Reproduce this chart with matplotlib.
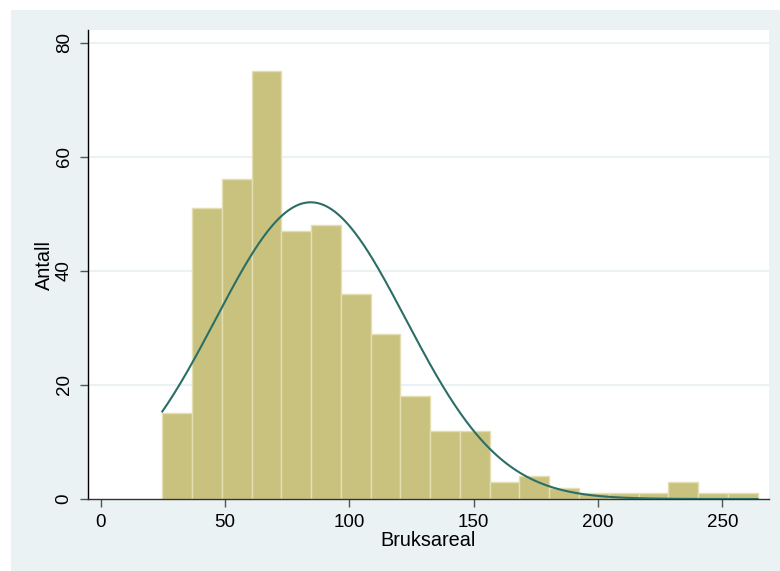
import numpy as np
import matplotlib as mpl
mpl.use('Agg')
import matplotlib.pyplot as plt
from matplotlib.patches import Rectangle

#
#--- histogram data (Bruksareal), 20 bins
#
bin_start = 24.8
bin_width = 11.97
counts = [15, 51, 56, 75, 47, 48, 36, 29, 18, 12,
          12, 3, 4, 2, 1, 1, 1, 3, 1, 1]
#
#--- fitted normal curve parameters
#
mu = 84.5
sigma = 38.2
n_obs = sum(counts)

xticks = [0, 50, 100, 150, 200, 250]
yticks = [0, 20, 40, 60, 80]

bg = '#EAF2F3'
bar_col = '#C9C27E'
edge_col = '#E4DFB2'
curve_col = '#2B6E66'

plt.rcParams['font.family'] = ['Liberation Sans', 'DejaVu Sans']

fig = plt.figure(figsize=(7.8, 5.71), dpi=100)
fig.patch.set_facecolor('white')
#
#--- outer (graph region) background
#
fig.patches.append(Rectangle((11 / 780, 0), 1 - 11 / 780, 1 - 10 / 571,
                             transform=fig.transFigure, facecolor=bg,
                             edgecolor='none', zorder=-10))

ax = fig.add_axes([88 / 780, 1 - 499 / 571, 681 / 780, 469 / 571])
ax.set_facecolor('white')

edges = bin_start + bin_width * np.arange(len(counts) + 1)
ax.bar(edges[:-1], counts, width=bin_width, align='edge',
       color=bar_col, edgecolor=edge_col, linewidth=1.0, zorder=2)
#
#--- normal density scaled to frequency
#
xs = np.linspace(edges[0], edges[-1], 400)
ys = n_obs * bin_width / (sigma * np.sqrt(2 * np.pi)) * np.exp(-0.5 * ((xs - mu) / sigma) ** 2)
ax.plot(xs, ys, color=curve_col, lw=1.5, zorder=3)

ax.set_xlim(-5.07, 268.8)
ax.set_ylim(0, 82.2)
ax.set_xticks(xticks)
ax.set_yticks(yticks)
for y in yticks[1:]:
    ax.axhline(y, color=bg, lw=1.5, zorder=1)

for s in ['top', 'right']:
    ax.spines[s].set_visible(False)
ax.spines['left'].set_color('black')
ax.spines['bottom'].set_color('#333333')
ax.spines['left'].set_linewidth(1.0)
ax.spines['bottom'].set_linewidth(1.0)

ax.tick_params(axis='both', direction='out', length=6, width=1.0,
               color='#555555', labelsize=13.5, pad=5)
plt.setp(ax.get_yticklabels(), rotation=90, va='center')

ax.set_xlabel('Bruksareal', fontsize=14.3, labelpad=0)
ax.set_ylabel('Antall', fontsize=14.3, labelpad=1)

plt.savefig('out.png', dpi=100, facecolor=fig.get_facecolor())
